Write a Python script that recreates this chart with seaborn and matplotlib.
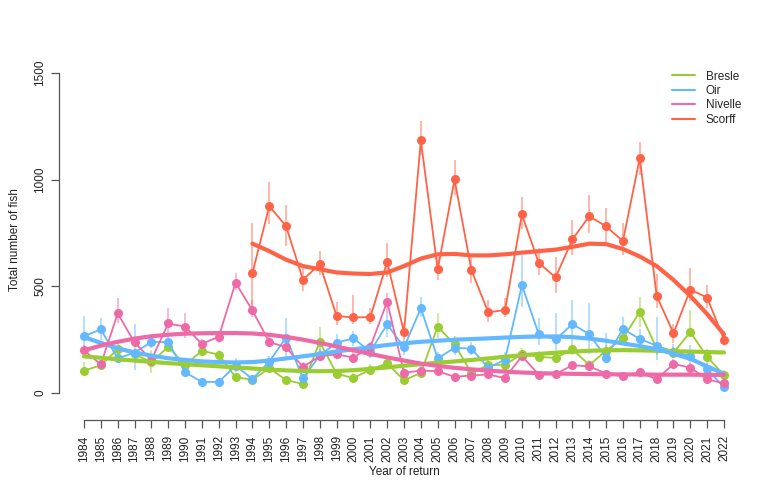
import numpy as np
import pandas as pd
import matplotlib
matplotlib.use("Agg")
import matplotlib.pyplot as plt
from matplotlib.lines import Line2D
import seaborn as sns

years = list(range(1984, 2023))
scorff_years = list(range(1994, 2023))

bresle = [105, 130, 206, 183, 144, 217, 131, 198, 180, 74, 62, 116, 61, 42, 240, 90, 70, 110, 139, 60,
          94, 311, 228, 94, 131, 132, 183, 170, 164, 205, 131, 198, 256, 381, 209, 189, 286, 169, 84]
bresle_lo = [84, 110, 170, 160, 92, 195, 110, 175, 160, 55, 45, 95, 45, 30, 170, 70, 50, 90, 120, 45,
             75, 256, 200, 80, 115, 110, 160, 150, 145, 180, 110, 170, 225, 311, 180, 165, 264, 120, 60]
bresle_hi = [147, 150, 240, 205, 201, 240, 150, 220, 200, 95, 85, 140, 80, 58, 311, 110, 95, 135, 160, 80,
             115, 373, 265, 115, 165, 155, 210, 195, 185, 235, 155, 225, 290, 451, 240, 215, 389, 205, 110]
bresle_trend = [172, 165, 158, 152, 146, 140, 135, 130, 125, 120, 115, 110, 106, 103, 102, 103, 107, 113, 120, 128,
                135, 142, 148, 155, 162, 170, 177, 183, 189, 194, 198, 200, 201, 200, 198, 196, 194, 192, 190]

oir = [267, 298, 162, 189, 239, 239, 97, 52, 52, 128, 66, 147, 260, 69, 176, 236, 256, 194, 322, 214,
       397, 162, 212, 208, 118, 157, 506, 276, 251, 323, 276, 166, 300, 253, 222, 194, 173, 111, 27]
oir_lo = [185, 250, 140, 110, 210, 210, 80, 40, 40, 100, 50, 125, 160, 55, 150, 200, 220, 165, 264, 180,
          357, 140, 180, 180, 95, 125, 405, 225, 200, 235, 185, 155, 233, 200, 155, 165, 130, 85, 10]
oir_hi = [360, 350, 190, 325, 270, 270, 120, 70, 70, 165, 85, 175, 350, 90, 210, 275, 290, 225, 373, 250,
          451, 190, 245, 240, 150, 190, 645, 350, 375, 435, 420, 280, 357, 300, 357, 230, 225, 140, 50]
oir_trend = [262, 235, 210, 190, 175, 163, 155, 148, 145, 143, 145, 152, 162, 172, 182, 195, 205, 215, 225, 233,
             240, 245, 250, 253, 256, 260, 263, 265, 265, 262, 255, 245, 232, 220, 205, 185, 160, 125, 90]

nivelle = [200, 134, 373, 237, 155, 326, 311, 230, 264, 517, 387, 239, 214, 122, 173, 181, 166, 216, 428, 95,
           105, 102, 76, 82, 87, 70, 173, 86, 89, 130, 125, 91, 78, 97, 64, 136, 119, 64, 45]
nivelle_lo = [180, 115, 326, 215, 135, 280, 256, 205, 235, 482, 357, 215, 190, 100, 150, 160, 145, 190, 373, 80,
              90, 88, 62, 68, 72, 57, 150, 72, 75, 110, 105, 75, 65, 80, 52, 115, 100, 50, 35]
nivelle_hi = [225, 155, 443, 260, 175, 397, 373, 255, 290, 561, 436, 265, 240, 145, 200, 210, 190, 240, 467, 115,
              125, 120, 92, 98, 105, 85, 200, 102, 105, 150, 145, 110, 95, 115, 80, 160, 140, 80, 58]
nivelle_trend = [200, 222, 240, 255, 266, 273, 278, 280, 281, 281, 279, 273, 263, 250, 235, 218, 200, 183, 167, 152,
                 138, 127, 118, 111, 105, 100, 96, 93, 91, 90, 89, 88, 87, 87, 86, 86, 86, 85, 85]

scorff = [562, 876, 782, 531, 604, 361, 354, 356, 614, 284, 1184, 579, 1001, 577, 378, 389, 837, 610, 542,
          720, 829, 781, 712, 1102, 456, 280, 485, 447, 250]
scorff_lo = [375, 790, 690, 480, 553, 320, 325, 325, 545, 250, 1115, 529, 927, 514, 334, 357, 771, 553, 467,
             646, 748, 709, 646, 1021, 400, 235, 430, 400, 225]
scorff_hi = [795, 990, 880, 605, 667, 425, 460, 400, 701, 330, 1274, 639, 1091, 631, 436, 443, 917, 678, 639,
             810, 927, 865, 795, 1177, 560, 325, 585, 505, 290]
scorff_trend = [700, 665, 625, 595, 580, 565, 560, 558, 565, 595, 630, 650, 652, 645, 645, 650, 658, 665, 672,
                685, 700, 698, 675, 640, 595, 530, 455, 370, 275]

rivers = ["Bresle", "Oir", "Nivelle", "Scorff"]
colors = {"Bresle": "#9acd32", "Oir": "#63b8ff", "Nivelle": "#ee6aa7", "Scorff": "#ff6347"}

series = {
    "Bresle": (years, bresle, bresle_lo, bresle_hi, bresle_trend),
    "Oir": (years, oir, oir_lo, oir_hi, oir_trend),
    "Nivelle": (years, nivelle, nivelle_lo, nivelle_hi, nivelle_trend),
    "Scorff": (scorff_years, scorff, scorff_lo, scorff_hi, scorff_trend),
}

sns.set_theme(style="white")
plt.rcParams["font.family"] = ["Liberation Sans", "DejaVu Sans"]

W, H = 780, 480
fig = plt.figure(figsize=(W / 100, H / 100), dpi=100)
left, right, bottom, top = 59, 749, 420, 60
ax = fig.add_axes([left / W, 1 - bottom / H, (right - left) / W, (bottom - top) / H])

for r in rivers:
    yr, v, lo, hi, tr = series[r]
    c = colors[r]
    df = pd.DataFrame({"year": yr, "n": v, "lo": lo, "hi": hi, "trend": tr})
    ax.vlines(df["year"], df["lo"], df["hi"], color=c, alpha=0.5, lw=1.3, zorder=2)
    sns.lineplot(data=df, x="year", y="n", color=c, lw=1.3, marker="o", markersize=6.5,
                 markeredgewidth=0, ax=ax, zorder=3)
    sns.lineplot(data=df, x="year", y="trend", color=c, lw=3.0, ax=ax, zorder=4)

px_per_year = 640 / 38
ax.set_xlim(1984 - (84 - left) / px_per_year, 2022 + (right - 724) / px_per_year)
px_per_unit = 320 / 1500
ax.set_ylim(-(bottom - 393) / px_per_unit, 1500 + (73 - top) / px_per_unit)

for s in ["top", "right"]:
    ax.spines[s].set_visible(False)
for s in ["left", "bottom"]:
    ax.spines[s].set_color("#555555")
    ax.spines[s].set_linewidth(0.9)
ax.spines["left"].set_bounds(0, 1500)
ax.spines["bottom"].set_bounds(1984, 2022)

fs = 8.5
ax.set_xticks(years)
ax.set_xticklabels([str(y) for y in years], rotation=90, fontsize=fs)
ax.set_yticks([0, 500, 1000, 1500])
ax.set_yticklabels(["0", "500", "1000", "1500"], rotation=90, va="center", fontsize=fs)
ax.tick_params(axis="both", direction="out", length=5.5, width=0.9, color="#555555",
               bottom=True, left=True, labelcolor="#222222")
ax.tick_params(axis="x", pad=5.5)
ax.tick_params(axis="y", pad=3.5)

ax.set_xlabel("Year of return", fontsize=fs, color="#222222", labelpad=3)
ax.set_ylabel("Total number of fish", fontsize=fs, color="#222222", labelpad=10)
ax.grid(False)

handles = [Line2D([0], [0], color=colors[r], lw=1.5) for r in rivers]
fig.legend(handles, rivers, loc="upper left", bbox_to_anchor=(661 / W, 1 - 60 / H),
           frameon=False, fontsize=fs, handlelength=2.0, labelspacing=0.2, handletextpad=0.9)

fig.savefig("out.png", dpi=100)
